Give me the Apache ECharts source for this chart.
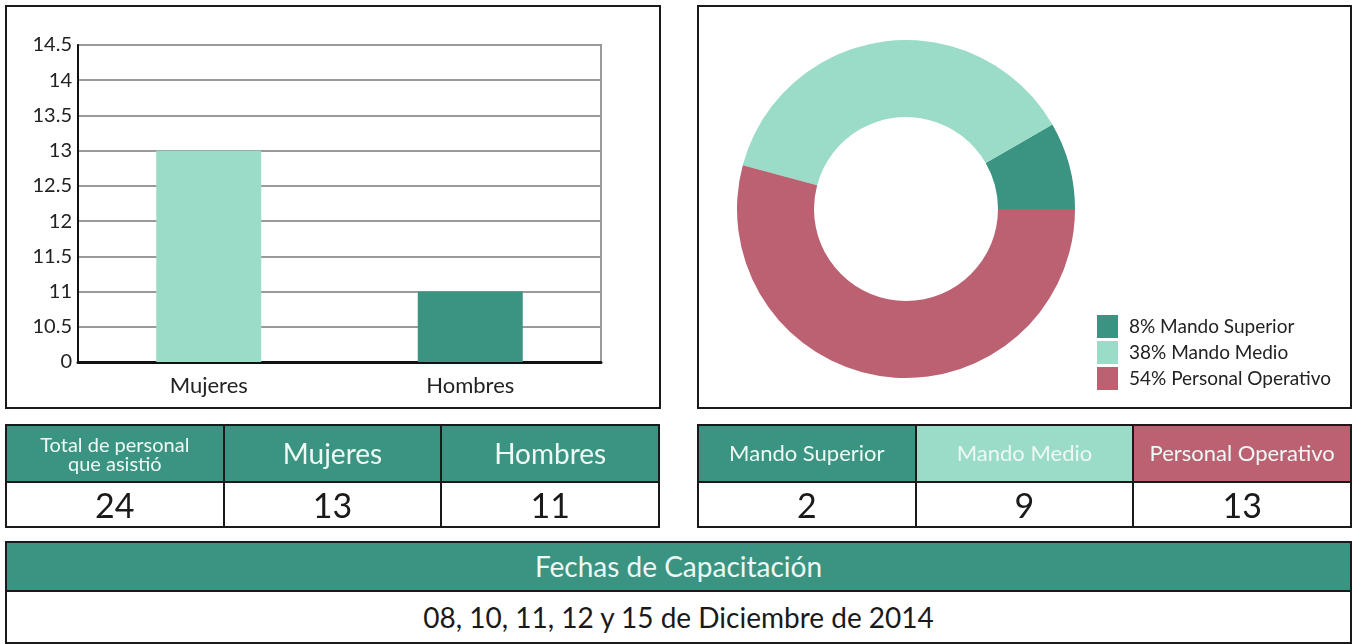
<!DOCTYPE html>
<html>
<head>
<meta charset="utf-8">
<script src="https://cdn.jsdelivr.net/npm/echarts@6/dist/echarts.min.js"></script>
<style>
  html, body { margin: 0; padding: 0; background: #fff; }
  body { width: 1353px; height: 644px; position: relative; overflow: hidden; font-family: Lato, "Noto Sans", sans-serif; }
  #chart { position: absolute; left: 0; top: 0; width: 1353px; height: 412px; }
  .panel { position: absolute; border: 2px solid #1a1a1a; pointer-events: none; box-sizing: border-box; }
  table { position: absolute; border-collapse: collapse; table-layout: fixed; }
  td { border: 2px solid #1a1a1a; text-align: center; padding: 0; color: #1a1a1a; }
  td.head { color: #eef8f4; }
</style>
</head>
<body>
<div id="chart"></div>
<div class="panel" style="left:5px;top:5px;width:656px;height:404px"></div>
<div class="panel" style="left:697px;top:5px;width:655px;height:404px"></div>

<table id="tblGenero" style="left:5px;top:424px;width:655px"></table>
<table id="tblMando" style="left:697px;top:424px;width:655px"></table>
<table id="tblFechas" style="left:5px;top:541px;width:1347px"></table>

<script>
// datos
const generoCats = ['Mujeres', 'Hombres'];
const generoValues = [13, 11];
const yTicks = [0, 10.5, 11, 11.5, 12, 12.5, 13, 13.5, 14, 14.5];

const mandoCats = ['Mando Superior', 'Mando Medio', 'Personal Operativo'];
const mandoValues = [2, 9, 13];

const totalLabel = 'Total de personal<br>que asistió';
const fechasTitle = 'Fechas de Capacitación';
const fechasText = '08, 10, 11, 12 y 15 de Diciembre de 2014';

// colores
const cTeal = '#3a9481';
const cMint = '#9adcc8';
const cRose = '#bb6172';
const generoColors = [cMint, cTeal];
const mandoColors = [cTeal, cMint, cRose];

const FONT = 'Lato, "Noto Sans", sans-serif';
const total = mandoValues.reduce((a, b) => a + b, 0);
const pct = {};
mandoCats.forEach((c, i) => { pct[c] = Math.round(mandoValues[i] / total * 100); });

const chart = echarts.init(document.getElementById('chart'));
chart.setOption({
    animation: false,
    textStyle: { fontFamily: FONT },
    grid: {
        left: 78, top: 45, width: 523, height: 317,
        show: true, borderColor: '#9a9a9a', borderWidth: 2
    },
    xAxis: {
        type: 'category',
        data: generoCats,
        axisLine: { lineStyle: { color: '#111', width: 3 } },
        axisTick: { show: false },
        axisLabel: { fontSize: 22, color: '#222', margin: 13, fontFamily: FONT }
    },
    yAxis: {
        type: 'value',
        // eje cortado: el tramo 0-10 se omite, la base se rotula como 0
        min: 10,
        max: yTicks[yTicks.length - 1],
        interval: 0.5,
        axisLine: { show: true, lineStyle: { color: '#111', width: 2 } },
        axisTick: { show: false },
        splitLine: { lineStyle: { color: '#9a9a9a', width: 2 } },
        axisLabel: {
            fontSize: 20, color: '#222', margin: 6, fontFamily: FONT,
            formatter: (v) => v === 10 ? String(yTicks[0]) : String(v)
        }
    },
    legend: {
        orient: 'vertical',
        left: 1092, top: 310,
        itemWidth: 21, itemHeight: 23, itemGap: 3,
        icon: 'rect',
        data: mandoCats,
        formatter: (name) => pct[name] + '% ' + name,
        textStyle: { fontSize: 19, color: '#222', fontFamily: FONT, padding: [0, 0, 0, 6] }
    },
    series: [
        {
            type: 'bar',
            barWidth: 105,
            data: generoValues.map((v, i) => ({ value: v, itemStyle: { color: generoColors[i] } }))
        },
        {
            type: 'pie',
            center: [906, 209],
            radius: [92, 169],
            startAngle: 0,
            clockwise: false,
            label: { show: false },
            labelLine: { show: false },
            itemStyle: { borderWidth: 0 },
            data: mandoCats.map((c, i) => ({ name: c, value: mandoValues[i], itemStyle: { color: mandoColors[i] } }))
        }
    ]
});

// tablas
function buildTable(id, headers, values, opts) {
    const t = document.getElementById(id);
    let h = '<tr style="height:' + opts.headH + 'px">';
    headers.forEach((txt, i) => {
        const bg = opts.headColors[i];
        const fs = opts.headSizes ? opts.headSizes[i] : opts.headSize;
        h += '<td class="head" style="background:' + bg + ';font-size:' + fs + 'px;line-height:' + (opts.headLine || 1.2) + '">' + txt + '</td>';
    });
    h += '</tr><tr style="height:' + opts.valH + 'px">';
    values.forEach(v => {
        h += '<td style="font-size:' + opts.valSize + 'px">' + v + '</td>';
    });
    h += '</tr>';
    t.innerHTML = h;
}

buildTable('tblGenero',
    [totalLabel].concat(generoCats),
    [generoValues.reduce((a, b) => a + b, 0)].concat(generoValues),
    { headH: 57, valH: 45, headColors: [cTeal, cTeal, cTeal], headSizes: [20, 28, 28], headLine: 0.95, valSize: 34 });

buildTable('tblMando',
    mandoCats,
    mandoValues,
    { headH: 57, valH: 45, headColors: mandoColors, headSize: 22, valSize: 34 });

buildTable('tblFechas',
    [fechasTitle],
    [fechasText],
    { headH: 49, valH: 52, headColors: [cTeal], headSize: 28, valSize: 28 });
</script>
</body>
</html>
